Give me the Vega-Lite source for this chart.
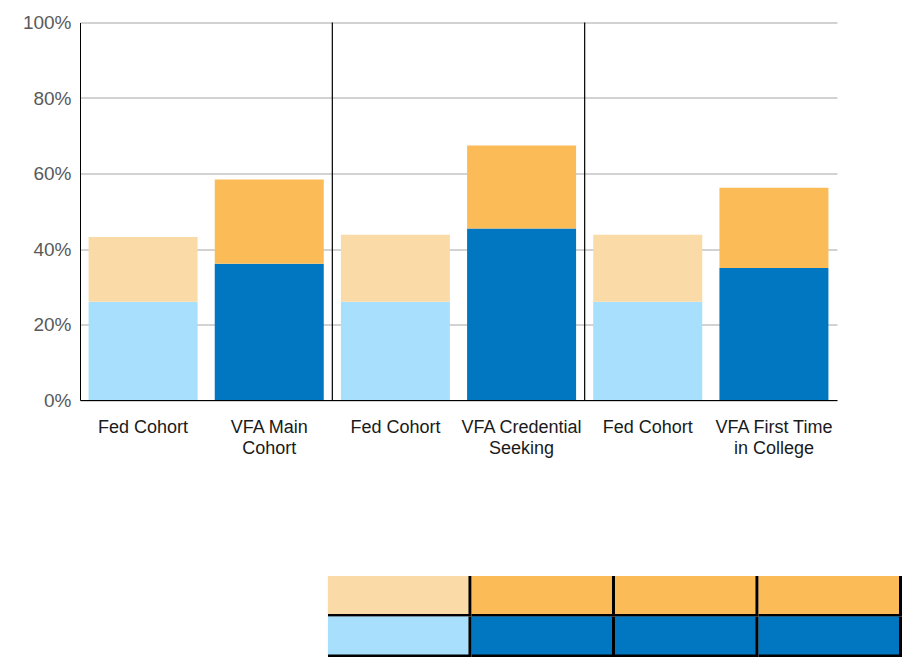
{
  "$schema": "https://vega.github.io/schema/vega-lite/v6.json",
  "background": "white",
  "padding": {"left": 22, "top": 13.5, "right": 5, "bottom": 0},
  "config": {
    "font": "Liberation Sans",
    "view": {"stroke": null},
    "legend": {"disable": true}
  },
  "datasets": {
    "bars": [
      {"bar": "Fed Cohort#1", "segment": "Fed lower", "low": 0, "high": 0.26},
      {"bar": "Fed Cohort#1", "segment": "Fed upper", "low": 0.26, "high": 0.432},
      {"bar": "VFA Main|Cohort", "segment": "VFA lower", "low": 0, "high": 0.361},
      {"bar": "VFA Main|Cohort", "segment": "VFA upper", "low": 0.361, "high": 0.584},
      {"bar": "Fed Cohort#2", "segment": "Fed lower", "low": 0, "high": 0.26},
      {"bar": "Fed Cohort#2", "segment": "Fed upper", "low": 0.26, "high": 0.438},
      {"bar": "VFA Credential|Seeking", "segment": "VFA lower", "low": 0, "high": 0.454},
      {"bar": "VFA Credential|Seeking", "segment": "VFA upper", "low": 0.454, "high": 0.674},
      {"bar": "Fed Cohort#3", "segment": "Fed lower", "low": 0, "high": 0.26},
      {"bar": "Fed Cohort#3", "segment": "Fed upper", "low": 0.26, "high": 0.438},
      {"bar": "VFA First Time|in College", "segment": "VFA lower", "low": 0, "high": 0.35},
      {"bar": "VFA First Time|in College", "segment": "VFA upper", "low": 0.35, "high": 0.562}
    ],
    "separators": [{"sep": 2}, {"sep": 4}],
    "table": [
      {"col": "Fed", "row": "upper", "segment": "Fed upper"},
      {"col": "Main", "row": "upper", "segment": "VFA upper"},
      {"col": "Credential", "row": "upper", "segment": "VFA upper"},
      {"col": "First", "row": "upper", "segment": "VFA upper"},
      {"col": "Fed", "row": "lower", "segment": "Fed lower"},
      {"col": "Main", "row": "lower", "segment": "VFA lower"},
      {"col": "Credential", "row": "lower", "segment": "VFA lower"},
      {"col": "First", "row": "lower", "segment": "VFA lower"}
    ]
  },
  "spacing": 118.5,
  "vconcat": [
    {
      "width": 757,
      "height": 377.5,
      "layer": [
        {
          "data": {"name": "bars"},
          "mark": {"type": "bar"},
          "encoding": {
            "x": {
              "field": "bar",
              "type": "nominal",
              "sort": null,
              "scale": {"paddingInner": 0.136, "paddingOuter": 0.068},
              "axis": {
                "title": null,
                "labelAngle": 0,
                "ticks": false,
                "domainColor": "#000000",
                "domainWidth": 1,
                "labelFontSize": 18,
                "labelColor": "#1a1a1a",
                "labelPadding": 18,
                "labelLineHeight": 21,
                "labelExpr": "split(replace(datum.value, regexp('#[0-9]'), ''), '|')"
              }
            },
            "y": {
              "field": "low",
              "type": "quantitative",
              "scale": {"domain": [0, 1], "nice": false},
              "axis": {
                "title": null,
                "values": [0, 0.2, 0.4, 0.6, 0.8, 1],
                "format": ".0%",
                "ticks": false,
                "domainColor": "#000000",
                "domainWidth": 1,
                "gridColor": "#a6a6a6",
                "gridWidth": 1,
                "labelFontSize": 19,
                "labelColor": "#595959",
                "labelPadding": 9
              }
            },
            "y2": {"field": "high"},
            "color": {
              "field": "segment",
              "type": "nominal",
              "scale": {
                "domain": ["Fed lower", "Fed upper", "VFA lower", "VFA upper"],
                "range": ["#A8DFFD", "#FADBA7", "#0077C0", "#FBBC58"]
              },
              "legend": null
            }
          }
        },
        {
          "data": {"name": "separators"},
          "mark": {"type": "rule", "color": "#000000", "strokeWidth": 1.2},
          "encoding": {
            "x": {
              "field": "sep",
              "type": "quantitative",
              "scale": {"domain": [0, 6], "nice": false},
              "axis": null
            },
            "y": {"datum": 0, "type": "quantitative"},
            "y2": {"datum": 1}
          }
        }
      ],
      "resolve": {"scale": {"x": "independent"}}
    },
    {
      "width": 822,
      "height": 81,
      "data": {"name": "table"},
      "encoding": {
        "x": {
          "field": "col",
          "type": "nominal",
          "sort": null,
          "scale": {"paddingInner": 0, "paddingOuter": 0.864, "align": 1},
          "axis": null
        },
        "y": {
          "field": "row",
          "type": "nominal",
          "sort": null,
          "scale": {"paddingInner": 0, "paddingOuter": 0},
          "axis": null
        }
      },
      "layer": [
        {
          "mark": {"type": "rect", "color": "#000000"}
        },
        {
          "mark": {
            "type": "rect",
            "width": {"band": 0.979},
            "height": {"band": 0.938},
            "xOffset": -1.5,
            "yOffset": -1.25
          },
          "encoding": {
            "color": {"field": "segment", "type": "nominal", "legend": null}
          }
        }
      ]
    }
  ]
}
